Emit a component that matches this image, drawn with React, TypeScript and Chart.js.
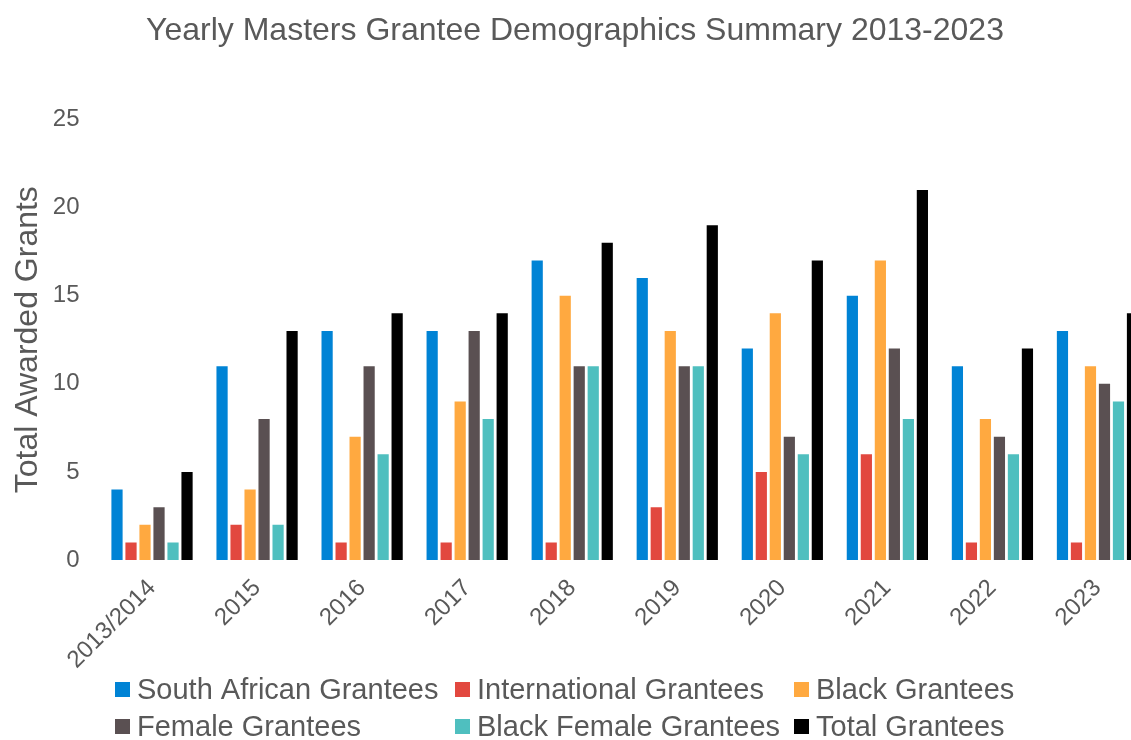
import React, { useEffect, useRef } from "react";
import { Chart, registerables } from "chart.js";

Chart.register(...registerables);

const categories = ["2013/2014", "2015", "2016", "2017", "2018", "2019", "2020", "2021", "2022", "2023"];
const southAfrican = [4, 11, 13, 13, 17, 16, 12, 15, 11, 13];
const international = [1, 2, 1, 1, 1, 3, 5, 6, 1, 1];
const black = [2, 4, 7, 9, 15, 13, 14, 17, 8, 11];
const female = [3, 8, 11, 13, 11, 11, 7, 12, 7, 10];
const blackFemale = [1, 2, 6, 8, 11, 11, 6, 8, 6, 9];
const total = [5, 13, 14, 14, 18, 19, 17, 21, 12, 14];
const seriesNames = [
  "South African Grantees",
  "International Grantees",
  "Black Grantees",
  "Female Grantees",
  "Black Female Grantees",
  "Total Grantees",
];
const seriesColors = ["#0083d5", "#e2483f", "#ffa940", "#5a5052", "#4fbfbf", "#000000"];
const yTicks = [0, 5, 10, 15, 20, 25];

const FONT = '"Liberation Sans", Arial, sans-serif';
const TEXT = "#595959";

const legendPlugin = {
  id: "gridLegend",
  afterDraw(chart: any) {
    const ctx = chart.ctx;
    const cols = [115, 455, 794];
    const rows = [699, 736];
    ctx.save();
    ctx.font = `29px ${FONT}`;
    ctx.textBaseline = "alphabetic";
    ctx.textAlign = "left";
    chart.data.datasets.forEach((ds: any, i: number) => {
      const x = cols[i % 3];
      const base = rows[Math.floor(i / 3)];
      ctx.fillStyle = ds.backgroundColor;
      ctx.fillRect(x, base - 17, 15, 15);
      ctx.fillStyle = TEXT;
      ctx.fillText(ds.label, x + 22, base);
    });
    ctx.restore();
  },
};

export default function App() {
  const ref = useRef<HTMLCanvasElement | null>(null);
  useEffect(() => {
    if (!ref.current) return;
    const values = [southAfrican, international, black, female, blackFemale, total];
    const chart = new Chart(ref.current, {
      type: "bar",
      data: {
        labels: categories,
        datasets: values.map((v, i) => ({
          label: seriesNames[i],
          data: v,
          backgroundColor: seriesColors[i],
          borderWidth: 0,
          categoryPercentage: 0.8,
          barPercentage: 0.8,
        })),
      },
      options: {
        animation: false,
        responsive: false,
        maintainAspectRatio: false,
        layout: { padding: { top: 12, right: 1, bottom: 60, left: 0 } },
        plugins: {
          legend: { display: false },
          tooltip: { enabled: false },
          title: {
            display: true,
            text: "Yearly Masters Grantee Demographics Summary 2013-2023",
            color: TEXT,
            font: { family: FONT, size: 32, weight: "normal" },
            padding: { top: 0, bottom: 69 },
          },
        },
        scales: {
          x: {
            grid: { display: false, drawTicks: false },
            border: { display: false },
            ticks: {
              color: TEXT,
              font: { family: FONT, size: 24 },
              maxRotation: 45,
              minRotation: 45,
              padding: 14,
            },
            afterFit: (s: any) => {
              s.height = 120;
            },
          },
          y: {
            min: 0,
            max: 25,
            grid: { display: false, drawTicks: false },
            border: { display: false },
            afterBuildTicks: (s: any) => {
              s.ticks = yTicks.map((v) => ({ value: v }));
            },
            ticks: {
              color: TEXT,
              font: { family: FONT, size: 24 },
              padding: 20,
            },
            title: {
              display: true,
              text: "Total Awarded Grants",
              color: TEXT,
              font: { family: FONT, size: 32, weight: "normal" },
              padding: { top: 9, bottom: 0 },
            },
            afterFit: (s: any) => {
              s.width = 99.5;
            },
          },
        },
      },
      plugins: [legendPlugin],
    });
    return () => chart.destroy();
  }, []);

  return (
    <div
      style={{
        position: "fixed",
        left: 0,
        top: 0,
        width: 1131,
        height: 740,
        overflow: "hidden",
        background: "#fff",
      }}
    >
      <canvas ref={ref} width={1151} height={740} style={{ display: "block" }} />
    </div>
  );
}
